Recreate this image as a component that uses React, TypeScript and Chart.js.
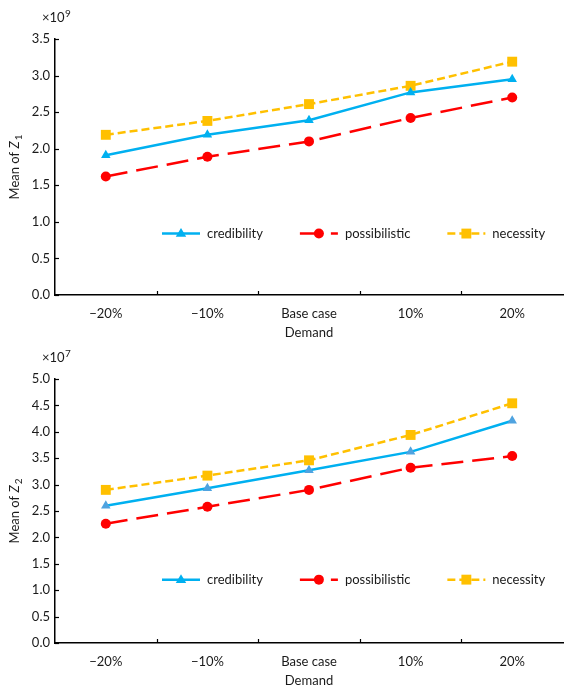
import React, { useEffect, useRef } from "react";
import { Chart, registerables } from "chart.js";

Chart.register(...registerables);

const categories = ["\u221220%", "\u221210%", "Base case", "10%", "20%"];
const seriesNames = ["credibility", "possibilistic", "necessity"];

// Mean of Z1 (x10^9)
const z1Credibility = [1.91, 2.19, 2.39, 2.77, 2.95];
const z1Possibilistic = [1.62, 1.89, 2.1, 2.42, 2.7];
const z1Necessity = [2.19, 2.38, 2.61, 2.86, 3.19];

// Mean of Z2 (x10^7)
const z2Credibility = [2.6, 2.93, 3.27, 3.62, 4.21];
const z2Possibilistic = [2.26, 2.58, 2.9, 3.32, 3.54];
const z2Necessity = [2.9, 3.17, 3.46, 3.94, 4.54];

const FONT = "Lato, 'Noto Sans', sans-serif";
const FS = 13;
const TXT = "#1a1a1a";
const BLUE = "#00B0F0";
const RED = "#FF0000";
const YELLOW = "#FFC000";

type PanelCfg = {
  values: number[][];
  yMax: number;
  exponent: string;
  sub: string;
  padTop: number;
  xHeight: number;
  height: number;
  triColor: string;
};

function drawMarker(ctx: CanvasRenderingContext2D, style: string, x: number, y: number, r: number, color: string) {
  ctx.save();
  ctx.setLineDash([]);
  ctx.fillStyle = color;
  ctx.beginPath();
  if (style === "triangle") {
    ctx.moveTo(x, y - r);
    ctx.lineTo(x + r * 0.95, y + r * 0.6);
    ctx.lineTo(x - r * 0.95, y + r * 0.6);
    ctx.closePath();
  } else if (style === "circle") {
    ctx.arc(x, y, r, 0, Math.PI * 2);
  } else {
    const s = r * Math.SQRT1_2;
    ctx.rect(x - s, y - s, 2 * s, 2 * s);
  }
  ctx.fill();
  ctx.restore();
}

const decorPlugin = {
  id: "decor",
  afterDraw(chart: any, _args: any, opts: any) {
    const { ctx, chartArea, scales } = chart;
    const x = scales.x;
    const y = scales.y;
    ctx.save();
    // inward tick marks
    ctx.strokeStyle = "#000";
    ctx.lineWidth = 1.2;
    ctx.setLineDash([]);
    y.ticks.forEach((_t: any, i: number) => {
      const py = Math.round(y.getPixelForTick(i)) + 0.5;
      ctx.beginPath();
      ctx.moveTo(chartArea.left, py);
      ctx.lineTo(chartArea.left + 4, py);
      ctx.stroke();
    });
    for (let i = 1; i < categories.length; i++) {
      const px = Math.round((x.getPixelForValue(i - 1) + x.getPixelForValue(i)) / 2) + 0.5;
      ctx.beginPath();
      ctx.moveTo(px, chartArea.bottom);
      ctx.lineTo(px, chartArea.bottom - 4);
      ctx.stroke();
    }

    // legend
    const ly = chartArea.top + 0.76 * (chartArea.bottom - chartArea.top);
    let lx = chartArea.left + 107;
    ctx.font = `${FS}px ${FONT}`;
    ctx.textBaseline = "middle";
    ctx.textAlign = "left";
    chart.data.datasets.forEach((ds: any) => {
      ctx.strokeStyle = ds.borderColor;
      ctx.lineWidth = ds.borderWidth;
      ctx.setLineDash(ds.borderDash || []);
      ctx.beginPath();
      ctx.moveTo(lx, ly);
      ctx.lineTo(lx + 38, ly);
      ctx.stroke();
      drawMarker(ctx, ds.pointStyle, lx + 19, ly, ds.pointRadius, ds.borderColor);
      ctx.fillStyle = TXT;
      ctx.fillText(ds.label, lx + 45, ly);
      lx += 45 + ctx.measureText(ds.label).width + 37;
    });

    // exponent label
    ctx.fillStyle = TXT;
    ctx.textBaseline = "alphabetic";
    ctx.font = `${FS}px ${FONT}`;
    const ex = chartArea.left - 13;
    const ey = chartArea.top - 17;
    ctx.fillText("\u00d710", ex, ey);
    const w10 = ctx.measureText("\u00d710").width;
    ctx.font = `10px ${FONT}`;
    ctx.fillText(opts.exponent, ex + w10 + 0.5, ey - 5);

    // x title
    ctx.font = `${FS}px ${FONT}`;
    ctx.textAlign = "center";
    ctx.textBaseline = "middle";
    ctx.fillText("Demand", (chartArea.left + chartArea.right) / 2, chartArea.bottom + 38);

    // y title
    ctx.save();
    ctx.translate(15, (chartArea.top + chartArea.bottom) / 2);
    ctx.rotate(-Math.PI / 2);
    ctx.textAlign = "left";
    ctx.textBaseline = "middle";
    const p1 = "Mean of ";
    ctx.font = `${FS}px ${FONT}`;
    const w1 = ctx.measureText(p1).width;
    ctx.font = `italic ${FS}px ${FONT}`;
    const w2 = ctx.measureText("Z").width;
    ctx.font = `10px ${FONT}`;
    const w3 = ctx.measureText(opts.sub).width;
    const total = w1 + w2 + w3 + 1;
    let tx = -total / 2;
    ctx.font = `${FS}px ${FONT}`;
    ctx.fillText(p1, tx, 0);
    tx += w1;
    ctx.font = `italic ${FS}px ${FONT}`;
    ctx.fillText("Z", tx, 0);
    tx += w2 + 1;
    ctx.font = `10px ${FONT}`;
    ctx.fillText(opts.sub, tx, 4);
    ctx.restore();

    ctx.restore();
  },
};

function Panel({ cfg }: { cfg: PanelCfg }) {
  const ref = useRef<HTMLCanvasElement | null>(null);
  useEffect(() => {
    if (!ref.current) return;
    const chart = new Chart(ref.current, {
      type: "line",
      data: {
        labels: categories,
        datasets: [
          {
            label: seriesNames[0],
            data: cfg.values[0],
            borderColor: BLUE,
            backgroundColor: cfg.triColor,
            borderWidth: 2.5,
            pointStyle: "triangle",
            pointRadius: 5.5,
            pointBackgroundColor: cfg.triColor,
            pointBorderColor: cfg.triColor,
            pointBorderWidth: 0,
            tension: 0,
          },
          {
            label: seriesNames[1],
            data: cfg.values[1],
            borderColor: RED,
            backgroundColor: RED,
            borderWidth: 2.5,
            borderDash: [22, 9],
            pointStyle: "circle",
            pointRadius: 5,
            pointBackgroundColor: RED,
            pointBorderColor: RED,
            pointBorderWidth: 0,
            tension: 0,
          },
          {
            label: seriesNames[2],
            data: cfg.values[2],
            borderColor: YELLOW,
            backgroundColor: YELLOW,
            borderWidth: 2.5,
            borderDash: [8, 4],
            pointStyle: "rect",
            pointRadius: 7,
            pointBackgroundColor: YELLOW,
            pointBorderColor: YELLOW,
            pointBorderWidth: 0,
            tension: 0,
          },
        ] as any,
      },
      options: {
        animation: false,
        responsive: false,
        devicePixelRatio: 1,
        layout: { padding: { top: cfg.padTop, right: 2, left: 0, bottom: 0 } },
        plugins: {
          legend: { display: false },
          tooltip: { enabled: false },
          decor: { exponent: cfg.exponent, sub: cfg.sub },
        } as any,
        scales: {
          x: {
            type: "category",
            offset: true,
            grid: { display: false, drawTicks: false },
            border: { display: true, color: "#000", width: 1.5 },
            ticks: { color: TXT, font: { family: FONT, size: FS }, padding: 11, maxRotation: 0 },
            afterFit: (s: any) => {
              s.height = cfg.xHeight;
            },
          },
          y: {
            min: 0,
            max: cfg.yMax,
            grid: { display: false, drawTicks: false },
            border: { display: true, color: "#000", width: 1.5 },
            ticks: {
              stepSize: 0.5,
              color: TXT,
              font: { family: FONT, size: FS },
              padding: 5,
              callback: (v: any) => Number(v).toFixed(1),
            },
            afterFit: (s: any) => {
              s.width = 55;
            },
          },
        },
      } as any,
      plugins: [decorPlugin as any],
    });
    return () => chart.destroy();
  }, [cfg]);
  return <canvas ref={ref} width={570} height={cfg.height} style={{ display: "block", width: 570, height: cfg.height }} />;
}

const panel1: PanelCfg = {
  values: [z1Credibility, z1Possibilistic, z1Necessity],
  yMax: 3.5,
  exponent: "9",
  sub: "1",
  padTop: 39,
  xHeight: 48,
  height: 343,
  triColor: BLUE,
};

const panel2: PanelCfg = {
  values: [z2Credibility, z2Possibilistic, z2Necessity],
  yMax: 5.0,
  exponent: "7",
  sub: "2",
  padTop: 36,
  xHeight: 44,
  height: 344,
  triColor: "#4FA3E0",
};

export default function App() {
  return (
    <div style={{ position: "absolute", left: 0, top: 0, width: 570, height: 687, background: "#fff" }}>
      <Panel cfg={panel1} />
      <Panel cfg={panel2} />
    </div>
  );
}
